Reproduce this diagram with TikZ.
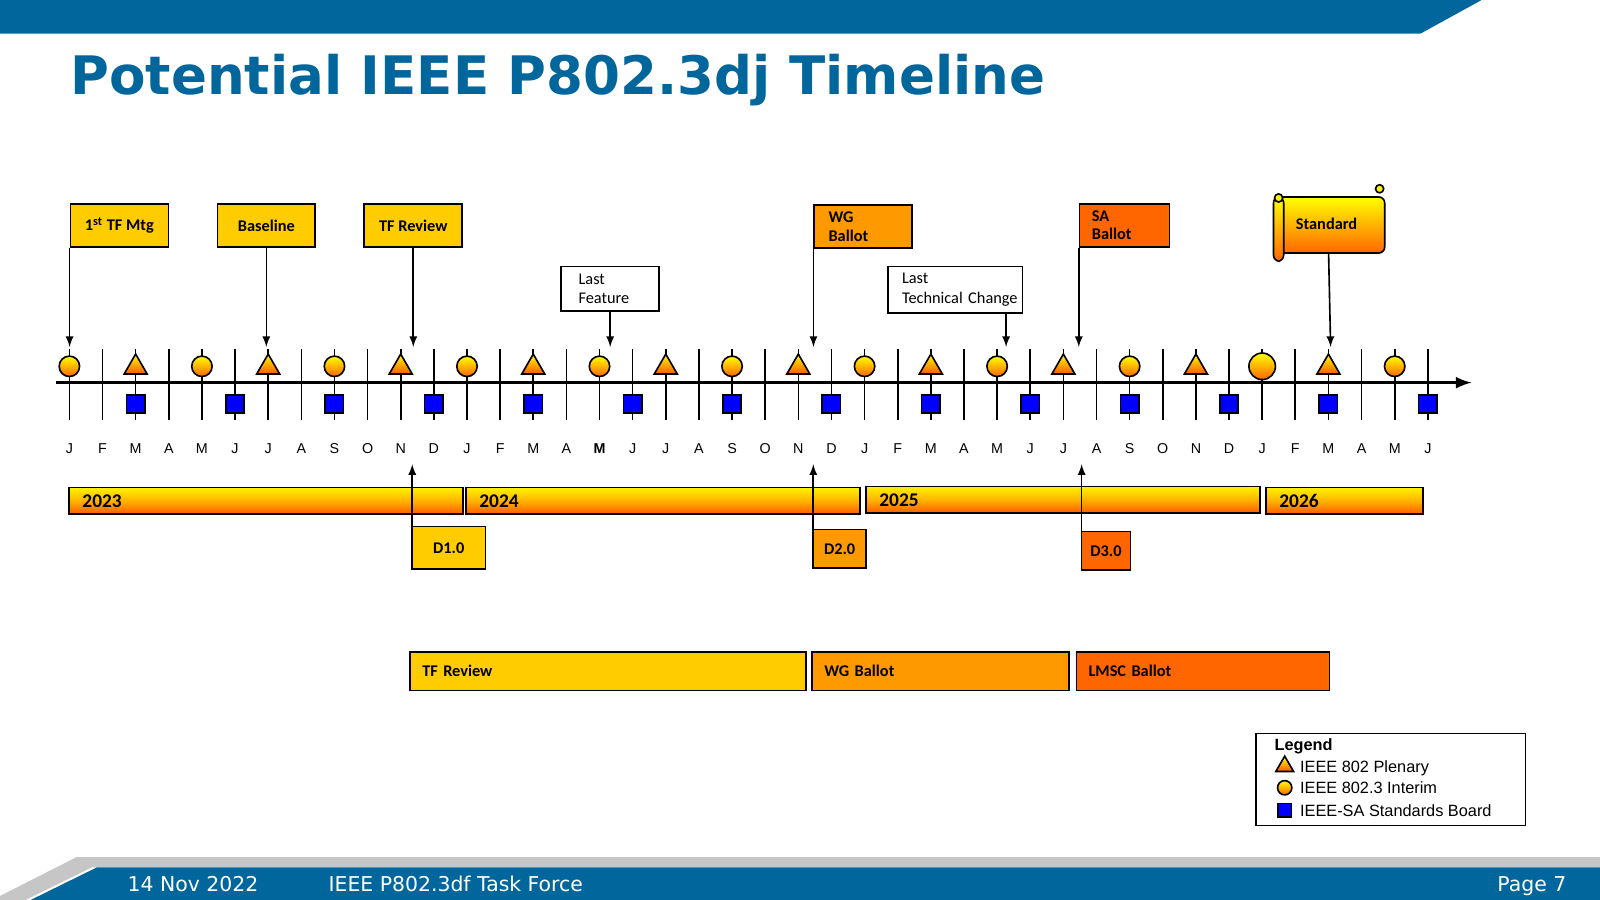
\documentclass[tikz,border=0pt]{standalone}
\usepackage{fontspec}
\setmainfont{Carlito}
\newfontfamily\titlefont{DejaVu Sans}
\newfontfamily\arialfont{Liberation Sans}
\usetikzlibrary{shapes.geometric}
\definecolor{ieeeblue}{RGB}{0,102,156}
\definecolor{boxyellow}{RGB}{255,204,0}
\definecolor{boxorange}{RGB}{255,153,0}
\definecolor{boxred}{RGB}{255,102,0}
\definecolor{symblue}{RGB}{0,0,255}
\tikzset{
  evbox/.style={draw, thick, font=\bfseries\fontsize{8}{9}\selectfont, inner sep=0pt},
  notebox/.style={draw, thick, fill=white, font=\fontsize{8}{9.5}\selectfont, align=left, inner sep=0pt},
  yearbar/.style={draw, thick, top color=yellow!90!orange, bottom color=red!30!orange, middle color=orange!60!yellow, font=\bfseries\fontsize{9.5}{10}\selectfont, inner sep=0pt},
  phasebar/.style={draw, thick, font=\bfseries\fontsize{8}{9}\selectfont, inner sep=0pt},
  interim/.style={circle, draw, thick, top color=yellow, bottom color=orange!80!red, minimum size=10pt, inner sep=0pt},
  plenary/.style={regular polygon, regular polygon sides=3, draw, thick, top color=yellow, bottom color=orange!70!red, minimum size=13pt, inner sep=0pt},
  board/.style={rectangle, draw, thick, fill=symblue, minimum size=9pt, inner sep=0pt},
  evarrow/.style={thick, -latex},
  month/.style={font=\arialfont\fontsize{7}{8}\selectfont},
}
\begin{document}
\begin{tikzpicture}[x=0.5pt, y=-0.5pt]
  \useasboundingbox (0,0) rectangle (1568,882);
  % header and footer bands
  \fill[ieeeblue] (0,0) -- (1452,0) -- (1392,33) -- (0,33) -- cycle;
  \node[anchor=base west, text=ieeeblue, font=\titlefont\bfseries\fontsize{26}{28}\selectfont] (title) at (62,93) {Potential IEEE P802.3dj Timeline};
  \fill[gray!45] (0,878) -- (75,840) -- (1568,840) -- (1568,850) -- (90,850) -- (25,882) -- (0,882) -- cycle;
  \fill[ieeeblue] (30,882) -- (95,850) -- (1568,850) -- (1568,882) -- cycle;
  \node[anchor=base west, text=white, font=\titlefont\fontsize{10}{12}\selectfont] (fdate) at (118,874) {14 Nov 2022};
  \node[anchor=base west, text=white, font=\titlefont\fontsize{10}{12}\selectfont] (fgroup) at (315,874) {IEEE P802.3df Task Force};
  \node[anchor=base east, text=white, font=\titlefont\fontsize{10}{12}\selectfont] (fpage) at (1542,874) {Page 7};

  % month ticks and labels
  \foreach \m [count=\i from 0] in {J,F,M,A,M,J,J,A,S,O,N,D,J,F,M,A,\textbf{M},J,J,A,S,O,N,D,J,F,M,A,M,J,J,A,S,O,N,D,J,F,M,A,M,J} {
    \pgfmathsetmacro{\xx}{68+32.47*\i}
    \draw[thick] (\xx,342) -- (\xx,412);
    \node[month] (m\i) at (\xx,440) {\m};
  }
  % timeline axis
  \coordinate (axisL) at (55,375);
  \coordinate (axisR) at (1442,375);
  \draw[line width=1.6pt, -latex] (axisL) -- (axisR);

  % meetings
  \foreach \i in {0,4,8,12,16,20,24,28,32,40}
    \node[interim] (ci\i) at ({68+32.47*\i},359) {};
  \node[interim, minimum size=13pt] (ci36) at ({68+32.47*36},359) {};
  \foreach \i in {2,6,10,14,18,22,26,30,34,38}
    \node[plenary] (pl\i) at ({68+32.47*\i},360) {};
  \foreach \i in {2,5,8,11,14,17,20,23,26,29,32,35,38,41}
    \node[board] (bd\i) at ({68+32.47*\i},396) {};

  % milestone boxes above
  \node[evbox, fill=boxyellow, minimum width=48pt, minimum height=21pt] (tf1) at (117,221) {1\textsuperscript{st} TF Mtg};
  \node[evbox, fill=boxyellow, minimum width=48pt, minimum height=21pt] (base) at (261,221) {Baseline};
  \node[evbox, fill=boxyellow, minimum width=48pt, minimum height=21pt] (tfr) at (405,221) {TF Review};
  \node[notebox, minimum width=48pt, minimum height=22pt, text width=41pt] (lastf) at (598,283) {\hspace*{5pt}Last\\\hspace*{5pt}Feature};
  \node[evbox, align=left, text width=42pt, fill=boxorange, minimum width=48pt, minimum height=21pt] (wgb) at (846,222) {\hspace*{4pt}WG\\\hspace*{4pt}Ballot};
  \node[notebox, minimum width=66pt, minimum height=23pt, text width=62pt] (lastt) at (936,284) {\hspace*{5pt}Last\\\hspace*{5pt}Technical Change};
  \node[evbox, align=left, text width=38pt, fill=boxred, minimum width=44pt, minimum height=21pt] (sab) at (1102,221) {\hspace*{3pt}SA\\\hspace*{3pt}Ballot};
  % scroll
  \draw[thick, rounded corners=3pt, top color=yellow, bottom color=red!20!orange] (1252,193) rectangle (1357,248);
  \draw[thick, rounded corners=3pt, top color=yellow, bottom color=red!20!orange] (1248,193) rectangle (1258,256);
  \draw[thick, fill=yellow] (1253,194) circle (4);
  \draw[thick, fill=yellow] (1352,185) circle (4);
  \node[font=\bfseries\fontsize{8}{9}\selectfont] (std) at (1300,219) {Standard};

  % arrows down to timeline
  \coordinate (tipT) at (0,340);
  \draw[evarrow] (tf1.south west) -- (tf1.south west |- tipT);
  \draw[evarrow] (base.south) -- (base.south |- tipT);
  \draw[evarrow] (tfr.south) -- (tfr.south |- tipT);
  \draw[evarrow] (lastf.south) -- (lastf.south |- tipT);
  \draw[evarrow] (wgb.south west) -- (wgb.south west |- tipT);
  \draw[evarrow] ([xshift=25pt]lastt.south) -- ([xshift=25pt]lastt.south |- tipT);
  \draw[evarrow] (sab.south west) -- (sab.south west |- tipT);
  \coordinate (stdtip) at (1304,340);
  \draw[evarrow] (1302,248) -- (stdtip);

  % years
  \node[yearbar, minimum width=193pt, minimum height=13pt, anchor=north west, text width=180pt] (y23) at (67,477) {2023};
  \node[yearbar, minimum width=193pt, minimum height=13pt, anchor=north west, text width=180pt] (y24) at (456,477) {2024};
  \node[yearbar, minimum width=193pt, minimum height=13pt, anchor=north west, text width=180pt] (y25) at (848,476) {2025};
  \node[yearbar, minimum width=77pt, minimum height=13pt, anchor=north west, text width=64pt] (y26) at (1240,477) {2026};

  % drafts
  \node[evbox, fill=boxyellow, minimum width=36pt, minimum height=21pt, anchor=north west] (d1) at (403,515) {D1.0};
  \node[evbox, fill=boxorange, minimum width=26pt, minimum height=19pt, anchor=north west] (d2) at (796,518) {D2.0};
  \node[evbox, fill=boxred, minimum width=24pt, minimum height=19pt, anchor=north west] (d3) at (1059,520) {D3.0};
  \coordinate (tipB) at (0,455);
  \draw[evarrow] ([xshift=0.5pt]d1.north west) -- ([xshift=0.5pt]d1.north west |- tipB);
  \draw[evarrow] ([xshift=0.5pt]d2.north west) -- ([xshift=0.5pt]d2.north west |- tipB);
  \draw[evarrow] ([xshift=0.5pt]d3.north west) -- ([xshift=0.5pt]d3.north west |- tipB);

  % phases
  \node[phasebar, fill=boxyellow, minimum width=194pt, minimum height=19pt, anchor=north west, text width=182pt] (ph1) at (401,638) {TF Review};
  \node[phasebar, fill=boxorange, minimum width=126pt, minimum height=19pt, anchor=north west, text width=114pt] (ph2) at (795,638) {WG Ballot};
  \node[phasebar, fill=boxred, minimum width=124pt, minimum height=19pt, anchor=north west, text width=112pt] (ph3) at (1054,638) {LMSC Ballot};

  % legend
  \draw[thick] (1231,719) rectangle (1495,809);
  \node[anchor=base west, font=\arialfont\bfseries\fontsize{8}{9}\selectfont] (lgt) at (1242,735) {Legend};
  \node[plenary, minimum size=10pt] (lg1) at (1259,751) {};
  \node[anchor=base west, font=\arialfont\fontsize{8}{9}\selectfont] (lgt1) at (1267,757) {IEEE 802 Plenary};
  \node[interim, minimum size=7pt] (lg2) at (1259,772) {};
  \node[anchor=base west, font=\arialfont\fontsize{8}{9}\selectfont] (lgt2) at (1267,778) {IEEE 802.3 Interim};
  \node[board, minimum size=6.5pt] (lg3) at (1259,794) {};
  \node[anchor=base west, font=\arialfont\fontsize{8}{9}\selectfont] (lgt3) at (1267,800) {IEEE-SA Standards Board};
\end{tikzpicture}
\end{document}
